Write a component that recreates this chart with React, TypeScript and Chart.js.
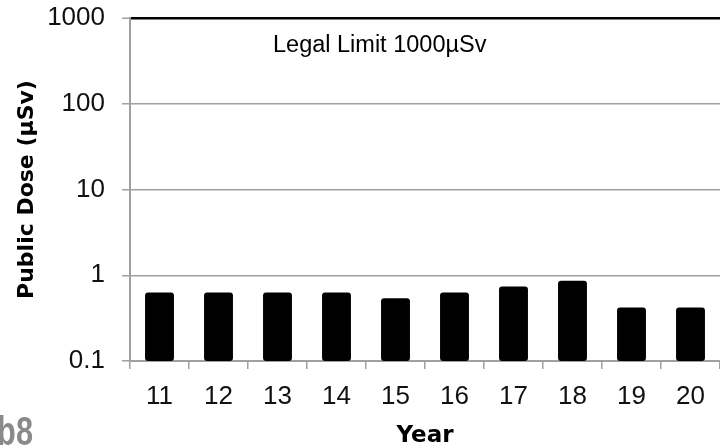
import React, { useEffect, useRef } from "react";
import { Chart, registerables } from "chart.js";

Chart.register(...registerables);

const years = ["11", "12", "13", "14", "15", "16", "17", "18", "19", "20"];
const publicDose = [0.63, 0.63, 0.63, 0.63, 0.54, 0.63, 0.74, 0.86, 0.42, 0.42];
const yTickValues = [0.1, 1, 10, 100, 1000];
const yTickLabels = ["0.1", "1", "10", "100", "1000"];
const legalLimit = 1000;
const legalLimitText = "Legal Limit 1000\u00b5Sv";
const yTitle = "Public Dose (\u00b5Sv)";
const xTitle = "Year";
const cornerMark = "b8";

const GRID = "#a0a0a0";
const TICK_FONT = { family: "'Liberation Sans', Arial, sans-serif", size: 26 };
const X_TITLE_FONT = { family: "'DejaVu Sans', sans-serif", size: 23, weight: "bold" as const, lineHeight: 1 };
const Y_TITLE_FONT = { family: "'DejaVu Sans', sans-serif", size: 22, weight: "bold" as const, lineHeight: 1 };

const annotations = {
  id: "annotations",
  afterDraw(chart: any) {
    const { ctx, chartArea, scales } = chart;
    ctx.save();
    ctx.fillStyle = "#000";
    ctx.font = "23.5px 'Liberation Sans', Arial, sans-serif";
    ctx.textAlign = "left";
    ctx.textBaseline = "alphabetic";
    ctx.fillText(legalLimitText, chartArea.left + 143, scales.y.getPixelForValue(legalLimit) + 34);

    ctx.fillStyle = "#8a8a8a";
    ctx.font = "bold 41px 'Liberation Sans', Arial, sans-serif";
    ctx.textAlign = "right";
    ctx.translate(33, chart.height - 3);
    ctx.scale(0.75, 1);
    ctx.fillText(cornerMark, 0, 0);
    ctx.restore();
  },
};

export default function App() {
  const ref = useRef<HTMLCanvasElement>(null);
  useEffect(() => {
    document.body.style.margin = "0";
    const chart = new Chart(ref.current!, {
      type: "bar",
      data: {
        labels: years,
        datasets: [
          {
            data: publicDose,
            backgroundColor: "#000",
            borderRadius: 3,
            borderSkipped: false,
            barPercentage: 0.49,
            categoryPercentage: 1,
          },
        ],
      },
      options: {
        responsive: false,
        animation: false,
        layout: { padding: { top: 18, left: 0, right: 0, bottom: 0 } },
        plugins: { legend: { display: false }, tooltip: { enabled: false } },
        scales: {
          x: {
            type: "category",
            offset: true,
            grid: { offset: true, drawOnChartArea: false, tickLength: 8, color: GRID, lineWidth: 1.5 },
            border: { color: GRID, width: 2 },
            ticks: { font: TICK_FONT, color: "#111", padding: 12, maxRotation: 0 },
            title: { display: true, text: xTitle, font: X_TITLE_FONT, color: "#000", padding: { top: 0, bottom: 0 } },
            afterFit: (s: any) => {
              s.height = 87;
              s.paddingLeft = 0;
              s.paddingRight = 0;
            },
          },
          y: {
            type: "logarithmic",
            min: 0.1,
            max: 1000,
            afterBuildTicks: (s: any) => {
              s.ticks = yTickValues.map((v) => ({ value: v, major: true }));
            },
            ticks: {
              font: TICK_FONT,
              color: "#111",
              padding: 17,
              callback: (v: any) => {
                const i = yTickValues.indexOf(Number(v));
                return i >= 0 ? yTickLabels[i] : "";
              },
            },
            grid: {
              tickLength: 8,
              tickColor: GRID,
              tickWidth: 1.5,
              color: (c: any) => (c.tick && c.tick.value === legalLimit ? "#000" : GRID),
              lineWidth: (c: any) => (c.tick && c.tick.value === legalLimit ? 2.5 : 1.5),
            },
            border: { color: GRID, width: 2 },
            title: { display: true, text: yTitle, font: Y_TITLE_FONT, color: "#000", padding: { top: 16, bottom: 0 } },
            afterFit: (s: any) => {
              s.width = 130;
              s.paddingTop = 0;
              s.paddingBottom = 0;
            },
          },
        },
      },
      plugins: [annotations],
    });
    return () => chart.destroy();
  }, []);
  return (
    <div style={{ position: "absolute", left: 0, top: 0, width: 720, height: 448 }}>
      <canvas ref={ref} width={720} height={448} style={{ display: "block" }} />
    </div>
  );
}
